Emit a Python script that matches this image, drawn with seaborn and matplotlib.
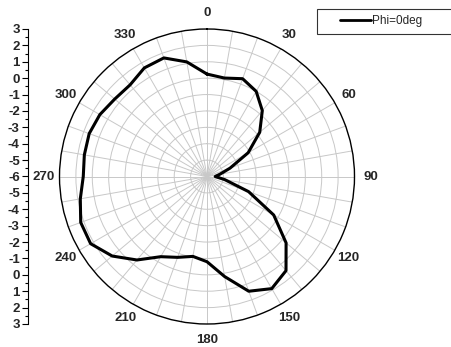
import numpy as np
import pandas as pd
import matplotlib
matplotlib.use("Agg")
import matplotlib.pyplot as plt
import seaborn as sns
from matplotlib.lines import Line2D
from matplotlib.legend_handler import HandlerLine2D
from matplotlib.ticker import MultipleLocator

# ---- data ----
angles_deg = [0, 10, 20, 30, 40, 50, 60, 70, 80, 90, 100, 110, 120, 130, 140, 150,
              160, 170, 180, 190, 200, 210, 220, 230, 240, 250, 260, 270, 280, 290,
              300, 310, 320, 330, 340, 350, 360]
gain_db = [0.25, 0.1, 0.35, 0.0, -0.75, -1.8, -3.1, -4.5, -5.2, -5.5, -4.9, -3.3,
           -1.3, 0.3, 1.5, 1.9, 1.45, 0.2, -0.8, -1.05, -0.75, -0.35, 0.65, 1.55,
           2.2, 2.2, 1.85, 1.55, 1.6, 1.65, 1.55, 1.35, 1.3, 1.65, 1.7, 1.1, 0.25]
series_name = "Phi=0deg"
theta_tick_deg = [0, 30, 60, 90, 120, 150, 180, 210, 240, 270, 300, 330]
theta_tick_labels = ["0", "30", "60", "90", "120", "150", "180", "210", "240",
                     "270", "300", "330"]
radial_grid = [-5, -4, -3, -2, -1, 0, 1, 2]
radial_min, radial_max = -6, 3
left_axis_labels = ["3", "2", "1", "0", "-1", "-2", "-3", "-4", "-5", "-6",
                    "-5", "-4", "-3", "-2", "-1", "0", "1", "2", "3"]

sns.set_style("white")
plt.rcParams["font.family"] = ["Liberation Sans", "DejaVu Sans"]

W, H = 451, 347
fig = plt.figure(figsize=(W / 100, H / 100), dpi=100)

cx, cy, R = 207.0, 176.5, 147.5
ax = fig.add_axes([(cx - R) / W, (H - cy - R) / H, 2 * R / W, 2 * R / H],
                  projection="polar")
ax.set_theta_zero_location("N")
ax.set_theta_direction(-1)

df = pd.DataFrame({"theta": np.deg2rad(angles_deg), "r": gain_db})
sns.lineplot(data=df, x="theta", y="r", ax=ax, sort=False, estimator=None,
             color="black", lw=2.2, legend=False)

ax.set_ylim(radial_min, radial_max)
ax.set_yticks(radial_grid)
ax.set_yticklabels([])
ax.tick_params(axis="y", length=0)
ax.set_xticks(np.deg2rad(theta_tick_deg))
ax.set_xticklabels(theta_tick_labels, fontweight="bold")
ax.set_xticks(np.deg2rad(np.arange(0, 360, 10)), minor=True)
ax.grid(which="both", color="#c8c8c8", lw=0.7, ls="-")
ax.tick_params(axis="x", which="major", direction="in", length=5, width=0.8,
               color="black", pad=4.5, labelsize=9.5)
ax.tick_params(axis="x", which="minor", length=0)
ax.spines["polar"].set_color("black")
ax.spines["polar"].set_linewidth(1.0)
ax.set_xlabel("")
ax.set_ylabel("")

# left radial scale
lax = fig.add_axes([27.5 / W, (H - cy - R) / H, 0.0001, 2 * R / H])
lax.set_facecolor("none")
lax.set_ylim(-9, 9)
lax.set_yticks(np.arange(-9, 10, 1))
lax.set_yticklabels(left_axis_labels[::-1], fontweight="bold")
lax.yaxis.set_minor_locator(MultipleLocator(0.5))
lax.set_xticks([])
for s in ["top", "right", "bottom"]:
    lax.spines[s].set_visible(False)
lax.spines["left"].set_color("black")
lax.spines["left"].set_linewidth(0.8)
lax.tick_params(axis="y", which="major", direction="out", length=4, width=0.8,
                color="black", labelsize=9.5, pad=1.5, left=True)
lax.tick_params(axis="y", which="minor", direction="out", length=2, width=0.8,
                color="black", left=True)

# legend
handle = Line2D([], [], color="black", lw=2.0)
leg = fig.legend(handles=[handle], labels=[series_name], loc="upper left",
                 bbox_to_anchor=(317 / W, 1 - 33 / H, 140 / W, 24 / H),
                 mode="expand", borderaxespad=0, frameon=True, fancybox=False,
                 edgecolor="black", fontsize=8.5, handlelength=4.0,
                 handletextpad=0.1, borderpad=0.55,
                 handler_map={Line2D: HandlerLine2D(xpad=1.4)})
leg.get_frame().set_linewidth(0.8)

fig.savefig("out.png", dpi=100)
